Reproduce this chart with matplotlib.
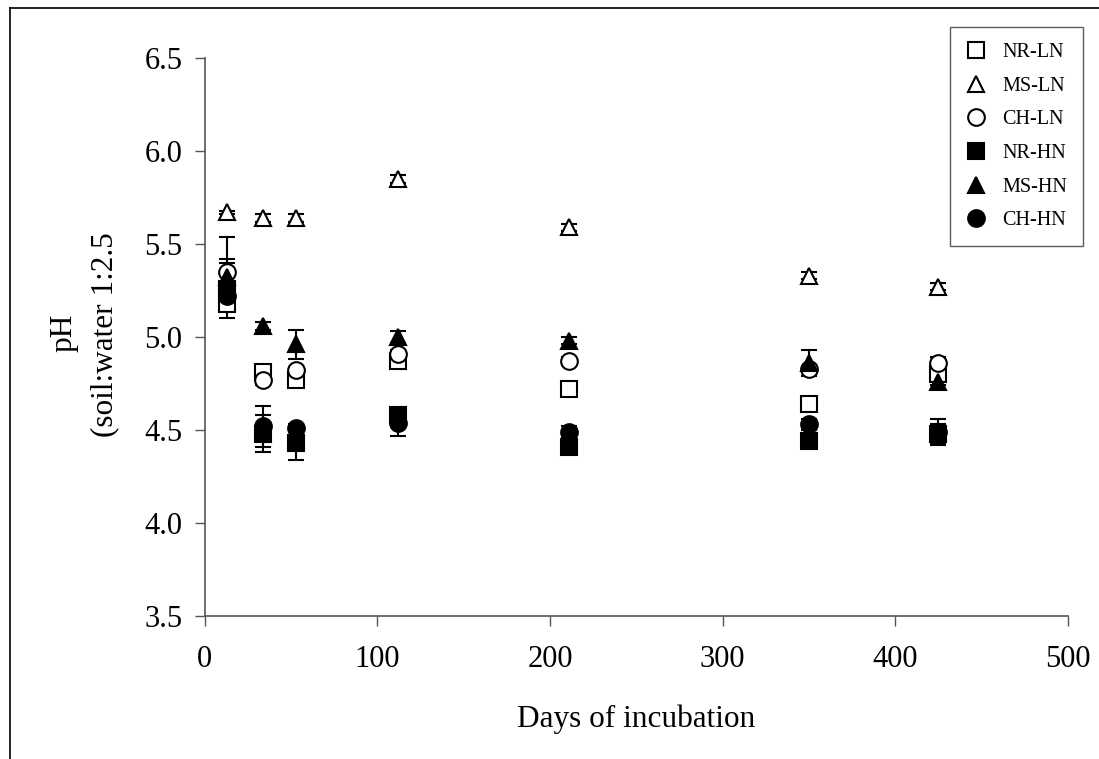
import matplotlib
matplotlib.use("Agg")
import matplotlib.pyplot as plt
from matplotlib.lines import Line2D

plt.rcParams["font.family"] = ["Liberation Serif", "DejaVu Serif"]

# sampling days
days = [13, 34, 53, 112, 211, 350, 425]

# pH means per treatment
nr_ln = [5.18, 4.81, 4.77, 4.87, 4.72, 4.64, 4.80]
ms_ln = [5.67, 5.64, 5.64, 5.85, 5.59, 5.33, 5.27]
ch_ln = [5.35, 4.77, 4.82, 4.91, 4.87, 4.83, 4.86]
nr_hn = [5.26, 4.48, 4.43, 4.58, 4.41, 4.44, 4.48]
ms_hn = [5.32, 5.06, 4.96, 5.00, 4.98, 4.86, 4.76]
ch_hn = [5.22, 4.52, 4.51, 4.54, 4.49, 4.53, 4.49]

# standard errors
nr_ln_err = [0.04, 0.02, 0.02, 0.02, 0.01, 0.01, 0.02]
ms_ln_err = [0.01, 0.02, 0.02, 0.02, 0.02, 0.02, 0.02]
ch_ln_err = [0.19, 0.03, 0.02, 0.02, 0.02, 0.01, 0.03]
nr_hn_err = [0.16, 0.10, 0.09, 0.03, 0.02, 0.02, 0.05]
ms_hn_err = [0.08, 0.02, 0.08, 0.03, 0.02, 0.07, 0.02]
ch_hn_err = [0.05, 0.11, 0.02, 0.07, 0.03, 0.03, 0.07]

labels = ["NR-LN", "MS-LN", "CH-LN", "NR-HN", "MS-HN", "CH-HN"]
means = [nr_ln, ms_ln, ch_ln, nr_hn, ms_hn, ch_hn]
errs = [nr_ln_err, ms_ln_err, ch_ln_err, nr_hn_err, ms_hn_err, ch_hn_err]
markers = ["s", "^", "o", "s", "^", "o"]
faces = ["white", "white", "white", "black", "black", "black"]

fig = plt.figure(figsize=(10.99, 7.59), dpi=100)
ax = fig.add_axes([0.1861, 0.1884, 0.7857, 0.7352])

for i in range(6):
    ax.errorbar(days, means[i], yerr=errs[i], fmt="none", ecolor="black",
                elinewidth=1.5, capsize=6, capthick=1.5, zorder=2 + i * 0.1)
    ax.plot(days, means[i], linestyle="none", marker=markers[i], ms=12,
            mfc=faces[i], mec="black", mew=1.5, label=labels[i], zorder=3 + i * 0.1)

ax.set_xlim(0, 500)
ax.set_ylim(3.5, 6.5)
ax.set_xticks([0, 100, 200, 300, 400, 500])
ax.set_yticks([3.5, 4.0, 4.5, 5.0, 5.5, 6.0, 6.5])
ax.set_yticklabels(["3.5", "4.0", "4.5", "5.0", "5.5", "6.0", "6.5"])
for s in ["top", "right"]:
    ax.spines[s].set_visible(False)
for s in ["left", "bottom"]:
    ax.spines[s].set_color("#555555")
    ax.spines[s].set_linewidth(1.2)
ax.tick_params(axis="both", direction="out", length=7, width=1, colors="#555555",
               labelcolor="black", labelsize=22)
ax.tick_params(axis="x", pad=14)
ax.tick_params(axis="y", pad=9)

ax.set_xlabel("Days of incubation", fontsize=22.5, labelpad=22)
fig.text(64 / 1099, 1 - 333 / 759, "pH", rotation=90, fontsize=22.5,
         ha="center", va="center")
fig.text(105 / 1099, 1 - 335 / 759, "(soil:water 1:2.5", rotation=90, fontsize=22.5,
         ha="center", va="center")

leg = ax.legend(loc="upper right", bbox_to_anchor=(1083 / 1099, 1 - 27 / 759),
                bbox_transform=fig.transFigure, fontsize=14.5, frameon=True,
                fancybox=False, borderpad=0.8, labelspacing=0.72,
                handlelength=1.0, handletextpad=0.8, borderaxespad=0,
                markerscale=1.0)
leg.get_frame().set_edgecolor("#333333")
leg.get_frame().set_linewidth(1.0)

# outer frame (top and left edges visible)
fig.add_artist(Line2D([10 / 1099, 10 / 1099], [0, 1 - 8 / 759],
                      transform=fig.transFigure, color="black", lw=1.2))
fig.add_artist(Line2D([10 / 1099, 1], [1 - 8 / 759, 1 - 8 / 759],
                      transform=fig.transFigure, color="black", lw=1.2))

fig.savefig("out.png", dpi=100, facecolor="white")
